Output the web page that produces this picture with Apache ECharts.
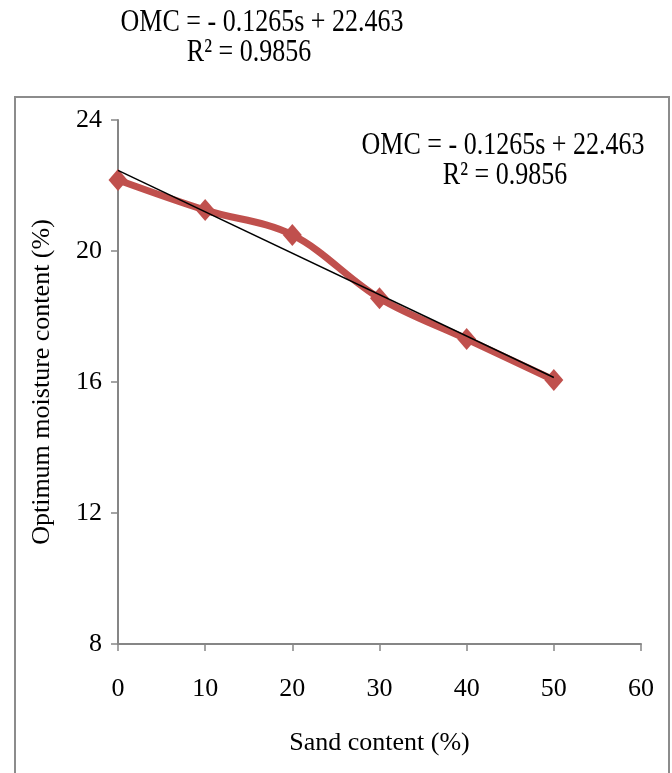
<!DOCTYPE html>
<html>
<head>
<meta charset="utf-8">
<script src="https://cdn.jsdelivr.net/npm/echarts@6/dist/echarts.min.js"></script>
<style>
  html, body { margin: 0; padding: 0; background: #fff; }
  #chart { width: 672px; height: 773px; }
</style>
</head>
<body>
<div id="chart"></div>
<script>
// sand content (%) and measured OMC (%)
const sand = [0, 10, 20, 30, 40, 50];
const omc = [22.17, 21.25, 20.49, 18.56, 17.31, 16.06];
// linear trendline end points
const trendX = [0, 50];
const trendY = [22.463, 16.138];
const eqText = "OMC = - 0.1265s + 22.463";
const r2Text = "R² = 0.9856";

const font = "Liberation Serif";
const axisGray = "#868686";

function label(text, x, y) {
  return {
    type: "text",
    x: x,
    y: y,
    scaleY: 1.2,
    silent: true,
    style: {
      text: text,
      font: "26px " + font,
      fill: "#000",
      align: "center",
      verticalAlign: "middle",
    },
  };
}

const myChart = echarts.init(document.getElementById("chart"));
const option = {
  backgroundColor: "#fff",
  animation: false,
  textStyle: { fontFamily: font },
  grid: { left: 118, top: 120, width: 523, height: 524 },
  graphic: [
    {
      type: "rect",
      shape: { x: 15, y: 97, width: 654, height: 690 },
      style: { fill: null, stroke: "#8c8c8c", lineWidth: 2 },
      silent: true,
    },
    label(eqText, 262, 23),
    label(r2Text, 249, 53),
    label(eqText, 503, 146),
    label(r2Text, 505, 176),
  ],
  xAxis: {
    type: "value",
    min: 0,
    max: 60,
    interval: 10,
    name: "Sand content (%)",
    nameLocation: "middle",
    nameGap: 86,
    nameTextStyle: { fontFamily: font, fontSize: 26, color: "#000" },
    axisLine: { lineStyle: { color: axisGray, width: 2 } },
    axisTick: { show: true, length: 7, lineStyle: { color: axisGray, width: 1.5 } },
    axisLabel: { fontFamily: font, fontSize: 26, color: "#000", margin: 32 },
    splitLine: { show: false },
  },
  yAxis: {
    type: "value",
    min: 8,
    max: 24,
    interval: 4,
    name: "Optimum moisture content (%)",
    nameLocation: "middle",
    nameGap: 63,
    nameTextStyle: { fontFamily: font, fontSize: 26, color: "#000" },
    axisLine: { show: true, lineStyle: { color: axisGray, width: 2 } },
    axisTick: { show: true, length: 7, lineStyle: { color: axisGray, width: 1.5 } },
    axisLabel: { fontFamily: font, fontSize: 26, color: "#000", margin: 16 },
    splitLine: { show: false },
  },
  series: [
    {
      name: "OMC",
      type: "line",
      data: sand.map((s, i) => [s, omc[i]]),
      smooth: 0.35,
      symbol: "diamond",
      symbolSize: [19, 22],
      lineStyle: { color: "#C0504D", width: 7 },
      itemStyle: { color: "#C0504D" },
      z: 2,
    },
    {
      name: "Linear",
      type: "line",
      data: trendX.map((s, i) => [s, trendY[i]]),
      symbol: "none",
      lineStyle: { color: "#000", width: 1.5 },
      z: 3,
    },
  ],
};
myChart.setOption(option);
</script>
</body>
</html>
